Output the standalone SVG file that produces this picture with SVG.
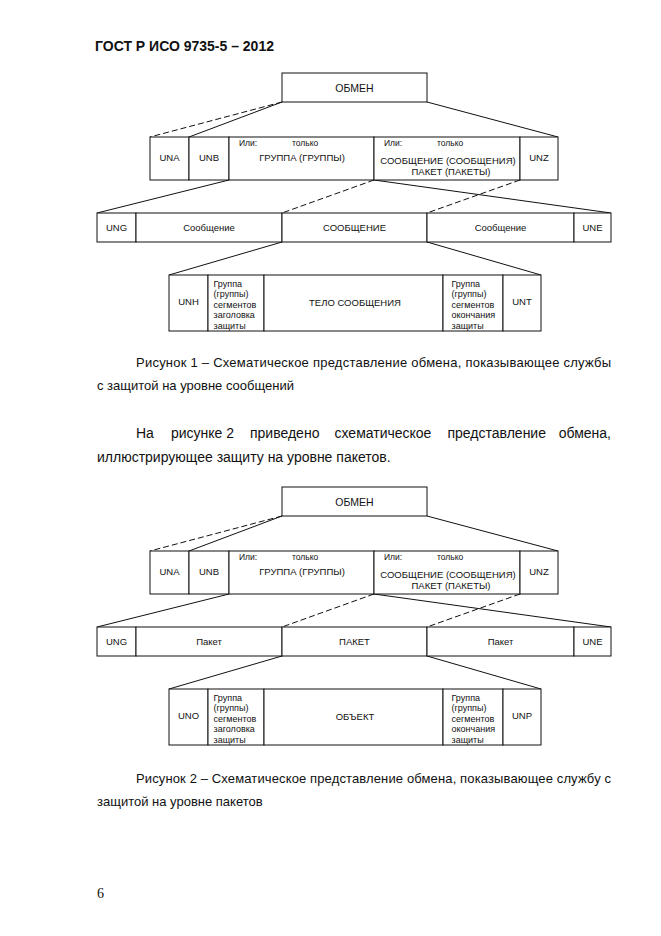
<svg xmlns="http://www.w3.org/2000/svg" width="661" height="936" viewBox="0 0 661 936">
<style>
.bg{fill:#fff}
.box{fill:#fff;stroke:#111;stroke-width:1}
.ln{stroke:#111;stroke-width:1;fill:none}
.dash{stroke:#111;stroke-width:1;fill:none;stroke-dasharray:6 3}
text{font-family:"Liberation Sans",Arial,sans-serif;fill:#111}
.t{font-size:9.5px}
.big{font-size:10.5px}
.c{text-anchor:middle}
.s{font-size:8.5px}
.sm{font-size:9px}
.hdr{font-size:14px;font-weight:bold}
.cap{font-size:13px}
.par{font-size:14px}
.pg{font-family:"Liberation Serif","Times New Roman",serif;font-size:14px}
</style>
<rect class="bg" x="0" y="0" width="661" height="936"/>
<text class="hdr" x="95" y="51">ГОСТ Р ИСО 9735-5 – 2012</text>

<g id="fig1">
<g id="f1-connectors">
<line class="dash" x1="282" y1="102" x2="150" y2="137"/>
<line class="ln" x1="282" y1="102" x2="189" y2="137"/>
<line class="ln" x1="427" y1="102" x2="558" y2="137"/>
<line class="ln" x1="229" y1="180" x2="97" y2="213"/>
<line class="dash" x1="374" y1="180" x2="282" y2="213"/>
<line class="ln" x1="374" y1="180" x2="611" y2="213"/>
<line class="dash" x1="520" y1="180" x2="427" y2="213"/>
<line class="ln" x1="282" y1="242" x2="169" y2="275"/>
<line class="ln" x1="427" y1="242" x2="541" y2="275"/>
</g>
<g id="f1-obmen"><rect class="box" x="282" y="73" width="145" height="29"/><text class="big c" x="354.5" y="91.5">ОБМЕН</text></g>
<g id="f1-una"><rect class="box" x="150" y="137" width="39" height="43"/><text class="t c" x="169.5" y="161">UNA</text></g>
<g id="f1-unb"><rect class="box" x="189" y="137" width="40" height="43"/><text class="t c" x="209" y="161">UNB</text></g>
<g id="f1-group"><rect class="box" x="229" y="137" width="145" height="43"/><text class="s" x="239" y="146">Или:</text><text class="s" x="292" y="146">только</text><text class="t c" x="302" y="161">ГРУППА (ГРУППЫ)</text></g>
<g id="f1-msg"><rect class="box" x="374" y="137" width="146" height="43"/><text class="s" x="384" y="146">Или:</text><text class="s" x="437" y="146">только</text><text class="t c" x="448" y="163.5">СООБЩЕНИЕ (СООБЩЕНИЯ)</text><text class="t c" x="451" y="175">ПАКЕТ (ПАКЕТЫ)</text></g>
<g id="f1-unz"><rect class="box" x="520" y="137" width="38" height="43"/><text class="t c" x="539" y="161">UNZ</text></g>

<g id="f1-ung"><rect class="box" x="97" y="213" width="39" height="29"/><text class="t c" x="116.5" y="231">UNG</text></g>
<g id="f1-m1"><rect class="box" x="136" y="213" width="146" height="29"/><text class="t c" x="209" y="231">Сообщение</text></g>
<g id="f1-m2"><rect class="box" x="282" y="213" width="145" height="29"/><text class="t c" x="354.5" y="231">СООБЩЕНИЕ</text></g>
<g id="f1-m3"><rect class="box" x="427" y="213" width="147" height="29"/><text class="t c" x="500.5" y="231">Сообщение</text></g>
<g id="f1-une"><rect class="box" x="574" y="213" width="37" height="29"/><text class="t c" x="592.5" y="231">UNE</text></g>

<g id="f1-unh"><rect class="box" x="169" y="275" width="39" height="56"/><text class="t c" x="188.5" y="305">UNH</text></g>
<g id="f1-hdrgrp"><rect class="box" x="208" y="275" width="56" height="56"/><text class="sm" x="213.5" y="286.5">Группа</text><text class="sm" x="213.5" y="297">(группы)</text><text class="sm" x="213.5" y="307.5">сегментов</text><text class="sm" x="213.5" y="318">заголовка</text><text class="sm" x="213.5" y="328.5">защиты</text></g>
<g id="f1-body"><rect class="box" x="264" y="275" width="179" height="56"/><text class="t c" x="355" y="306">ТЕЛО СООБЩЕНИЯ</text></g>
<g id="f1-trlgrp"><rect class="box" x="443" y="275" width="60" height="56"/><text class="sm" x="451.5" y="286.5">Группа</text><text class="sm" x="451.5" y="297">(группы)</text><text class="sm" x="451.5" y="307.5">сегментов</text><text class="sm" x="451.5" y="318">окончания</text><text class="sm" x="451.5" y="328.5">защиты</text></g>
<g id="f1-unt"><rect class="box" x="503" y="275" width="38" height="56"/><text class="t c" x="522" y="305">UNT</text></g>
</g>

<text class="cap" x="136" y="367" textLength="475" lengthAdjust="spacing">Рисунок 1 –  Схематическое представление обмена, показывающее службы</text>
<text class="cap" x="97" y="390">с защитой на уровне сообщений</text>

<text class="par" y="438"><tspan x="136">На</tspan><tspan x="171">рисунке 2</tspan><tspan x="250">приведено</tspan><tspan x="334.5">схематическое</tspan><tspan x="447.5">представление</tspan><tspan x="611" text-anchor="end">обмена,</tspan></text>
<text class="par" x="97" y="462">иллюстрирующее защиту на уровне пакетов.</text>

<g id="fig2" transform="translate(0,414)">
<g id="f2-connectors">
<line class="dash" x1="282" y1="102" x2="150" y2="137"/>
<line class="ln" x1="282" y1="102" x2="189" y2="137"/>
<line class="ln" x1="427" y1="102" x2="558" y2="137"/>
<line class="ln" x1="229" y1="180" x2="97" y2="213"/>
<line class="dash" x1="374" y1="180" x2="282" y2="213"/>
<line class="ln" x1="374" y1="180" x2="611" y2="213"/>
<line class="dash" x1="520" y1="180" x2="427" y2="213"/>
<line class="ln" x1="282" y1="242" x2="169" y2="275"/>
<line class="ln" x1="427" y1="242" x2="541" y2="275"/>
</g>
<g id="f2-obmen"><rect class="box" x="282" y="73" width="145" height="29"/><text class="big c" x="354.5" y="91.5">ОБМЕН</text></g>
<g id="f2-una"><rect class="box" x="150" y="137" width="39" height="43"/><text class="t c" x="169.5" y="161">UNA</text></g>
<g id="f2-unb"><rect class="box" x="189" y="137" width="40" height="43"/><text class="t c" x="209" y="161">UNB</text></g>
<g id="f2-group"><rect class="box" x="229" y="137" width="145" height="43"/><text class="s" x="239" y="146">Или:</text><text class="s" x="292" y="146">только</text><text class="t c" x="302" y="161">ГРУППА (ГРУППЫ)</text></g>
<g id="f2-msg"><rect class="box" x="374" y="137" width="146" height="43"/><text class="s" x="384" y="146">Или:</text><text class="s" x="437" y="146">только</text><text class="t c" x="448" y="163.5">СООБЩЕНИЕ (СООБЩЕНИЯ)</text><text class="t c" x="451" y="175">ПАКЕТ (ПАКЕТЫ)</text></g>
<g id="f2-unz"><rect class="box" x="520" y="137" width="38" height="43"/><text class="t c" x="539" y="161">UNZ</text></g>

<g id="f2-ung"><rect class="box" x="97" y="213" width="39" height="29"/><text class="t c" x="116.5" y="231">UNG</text></g>
<g id="f2-p1"><rect class="box" x="136" y="213" width="146" height="29"/><text class="t c" x="209" y="231">Пакет</text></g>
<g id="f2-p2"><rect class="box" x="282" y="213" width="145" height="29"/><text class="t c" x="354.5" y="231">ПАКЕТ</text></g>
<g id="f2-p3"><rect class="box" x="427" y="213" width="147" height="29"/><text class="t c" x="500.5" y="231">Пакет</text></g>
<g id="f2-une"><rect class="box" x="574" y="213" width="37" height="29"/><text class="t c" x="592.5" y="231">UNE</text></g>

<g id="f2-uno"><rect class="box" x="169" y="275" width="39" height="56"/><text class="t c" x="188.5" y="305">UNO</text></g>
<g id="f2-hdrgrp"><rect class="box" x="208" y="275" width="56" height="56"/><text class="sm" x="213.5" y="286.5">Группа</text><text class="sm" x="213.5" y="297">(группы)</text><text class="sm" x="213.5" y="307.5">сегментов</text><text class="sm" x="213.5" y="318">заголовка</text><text class="sm" x="213.5" y="328.5">защиты</text></g>
<g id="f2-obj"><rect class="box" x="264" y="275" width="179" height="56"/><text class="t c" x="355" y="306">ОБЪЕКТ</text></g>
<g id="f2-trlgrp"><rect class="box" x="443" y="275" width="60" height="56"/><text class="sm" x="451.5" y="286.5">Группа</text><text class="sm" x="451.5" y="297">(группы)</text><text class="sm" x="451.5" y="307.5">сегментов</text><text class="sm" x="451.5" y="318">окончания</text><text class="sm" x="451.5" y="328.5">защиты</text></g>
<g id="f2-unp"><rect class="box" x="503" y="275" width="38" height="56"/><text class="t c" x="522" y="305">UNP</text></g>
</g>

<text class="cap" x="136" y="783" textLength="475" lengthAdjust="spacing">Рисунок 2 – Схематическое представление обмена, показывающее службу с</text>
<text class="cap" x="97" y="806">защитой на уровне пакетов</text>

<text class="pg" x="97" y="898">6</text>
</svg>
